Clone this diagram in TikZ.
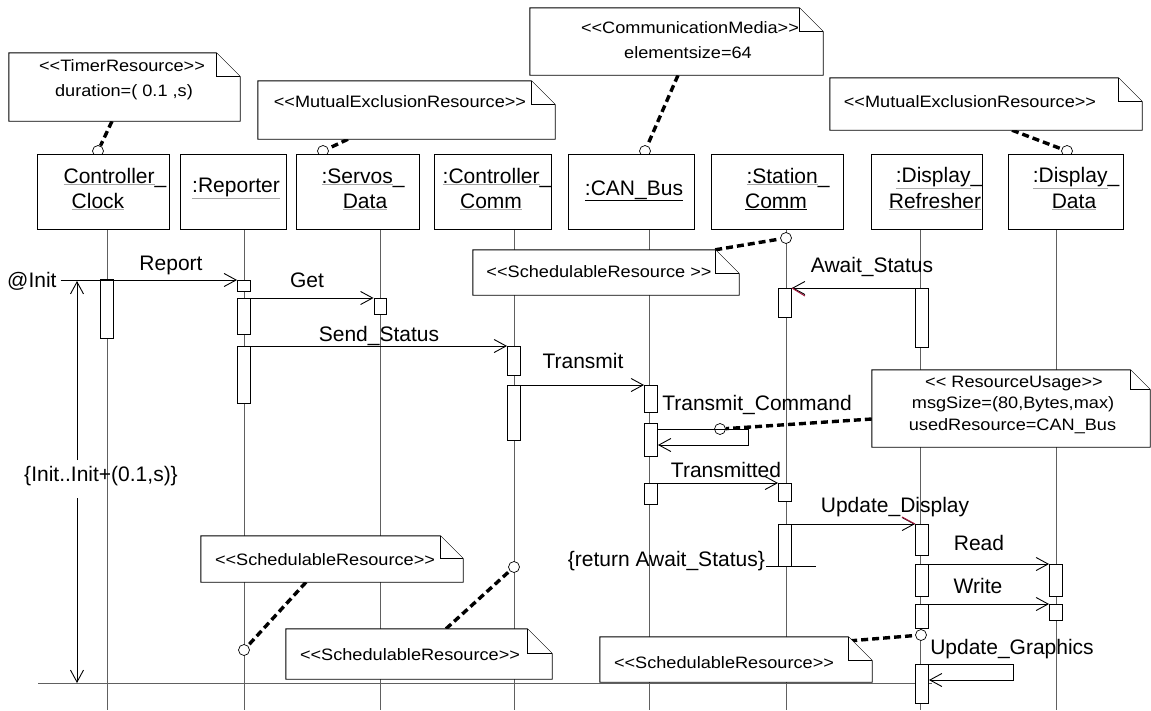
\documentclass[tikz,border=0pt]{standalone}
\usepackage{fontspec}
\setmainfont{Liberation Sans}[Ligatures=TeXOff]
\newfontfamily\notefont{Liberation Sans}[FakeStretch=1.1,Ligatures=TeXOff]
\usetikzlibrary{arrows.meta}
\pgfdeclarelayer{back}
\pgfdeclarelayer{notes}
\pgfsetlayers{back,notes,main}
\definecolor{lifegray}{HTML}{606060}
\definecolor{ulgray}{HTML}{A8A8A8}
\definecolor{tickred}{HTML}{A0183C}
\newcommand\ulg[1]{\textcolor{ulgray}{\underline{\textcolor{black}{#1}}}}
\newcommand\noteoutline[2]{%
  \filldraw[noteline] (#1.north west) -- ([xshift=-#2pt]#1.north east) -- ([yshift=-#2pt]#1.north east) -- (#1.south east) -- (#1.south west) -- cycle;
  \draw[noteline] ([xshift=-#2pt]#1.north east) |- ([yshift=-#2pt]#1.north east);}
\tikzset{
  lbl/.style={font=\fontsize{21}{25}\selectfont, inner sep=0pt, anchor=base},
  ntxt/.style={font=\notefont\fontsize{16.5}{22}\selectfont, inner sep=0pt, anchor=base},
  obj/.style={draw, fill=white, line width=0.9pt, minimum height=75pt, inner sep=0pt},
  act/.style={draw, fill=white, line width=0.9pt, minimum width=13pt, inner sep=0pt, anchor=north},
  life/.style={draw=lifegray, line width=0.9pt},
  msg/.style={line width=0.8pt, -{Straight Barb[length=12pt,width=13pt,line width=0.9pt]}},
  plainline/.style={line width=0.8pt},
  dconn/.style={line width=3.4pt, dash pattern=on 7pt off 4pt},
  circ/.style={circle, draw, fill=white, line width=0.7pt, minimum size=11pt, inner sep=0pt},
  notebox/.style={rectangle, inner sep=0pt},
  noteline/.style={draw, fill=white, line width=0.9pt},
}
\begin{document}
\begin{tikzpicture}[x=1pt,y=-1pt]
\useasboundingbox (0,0) rectangle (1151,710);
\begin{pgfonlayer}{back}
\fill[white] (0,0) rectangle (1151,710);
\end{pgfonlayer}

% ---------- note placeholders (outline drawn on notes layer) ----------
\node[notebox, minimum width=231pt, minimum height=68pt] (tn)  at (124.5,87) {};
\node[notebox, minimum width=297pt, minimum height=58pt] (mx1) at (406.5,110) {};
\node[notebox, minimum width=293pt, minimum height=67pt] (cm)  at (676.5,41.5) {};
\node[notebox, minimum width=312pt, minimum height=52pt] (mx2) at (986,104) {};
\node[notebox, minimum width=266pt, minimum height=45pt] (sr1) at (606,272.5) {};
\node[notebox, minimum width=278pt, minimum height=77pt] (ru)  at (1011,408.5) {};
\node[notebox, minimum width=262pt, minimum height=46pt] (sr2) at (332,559) {};
\node[notebox, minimum width=266pt, minimum height=50pt] (sr3) at (419,654) {};
\node[notebox, minimum width=272pt, minimum height=45pt] (sr4) at (736,659.5) {};

% ---------- circles (note anchors) ----------
\node[circ] (ctn)  at (98,151) {};
\node[circ] (cmx1) at (323,151) {};
\node[circ] (ccm)  at (645,151) {};
\node[circ] (cmx2) at (1067,151) {};
\node[circ] (csr1) at (786,238) {};
\node[circ] (cru)  at (720,429) {};
\node[circ] (csr4) at (921,635) {};
\node[circ] (csr2) at (244,650) {};
\node[circ] (csr3) at (514,567) {};

% ---------- object boxes ----------
\node[obj, minimum width=132pt] (cl) at (103,191.5) {};
\node[obj, minimum width=106pt] (rp) at (233,191.5) {};
\node[obj, minimum width=123pt] (sv) at (357.5,191.5) {};
\node[obj, minimum width=117pt] (cc) at (492.5,191.5) {};
\node[obj, minimum width=126pt] (cb) at (631,191.5) {};
\node[obj, minimum width=132pt] (sc) at (777,191.5) {};
\node[obj, minimum width=111pt] (dr) at (926.5,191.5) {};
\node[obj, minimum width=115pt] (dd) at (1065.5,191.5) {};

\node[lbl] at (115,183) {\ulg{Controller}\_};
\node[lbl] at (98,208) {\ulg{Clock}};
\node[lbl] at (236,192) {\ulg{:Reporter}};
\node[lbl] at (363,183) {\ulg{:Servos}\_};
\node[lbl] at (365,208) {\ulg{Data}};
\node[lbl] at (497,183) {\ulg{:Controller}\_};
\node[lbl] at (491,208) {\ulg{Comm}};
\node[lbl] at (634,195) {\underline{:CAN\_Bus}};
\node[lbl] at (788,183) {\ulg{:Station}\_};
\node[lbl] at (776,208) {\underline{Comm}};
\node[lbl] at (939,182) {\ulg{:Display}\_};
\node[lbl] at (935,208) {\ulg{Refresher}};
\node[lbl] at (1076,182) {\ulg{:Display}\_};
\node[lbl] at (1074,208) {\ulg{Data}};

% ---------- activation boxes ----------
\node[act, minimum height=59pt] (clk1) at (107,279) {};
\node[act, minimum height=11pt] (rep0) at (244,280) {};
\node[act, minimum height=36pt] (rep1) at (244,298) {};
\node[act, minimum height=57pt] (rep2) at (244,346) {};
\node[act, minimum height=16pt, minimum width=12pt] (srv1) at (380,298) {};
\node[act, minimum height=29pt] (cc1) at (514,346) {};
\node[act, minimum height=55pt] (cc2) at (514,385) {};
\node[act, minimum height=27pt] (bus1) at (651,385) {};
\node[act, minimum height=33pt] (bus2) at (651,423) {};
\node[act, minimum height=21pt] (bus3) at (651,483) {};
\node[act, minimum height=29pt] (st1) at (785,288) {};
\node[act, minimum height=18pt] (st2) at (785,483) {};
\node[act, minimum height=42pt] (st3) at (785,524) {};
\node[act, minimum height=59pt] (dr1) at (922,288) {};
\node[act, minimum height=31pt] (dr2) at (922,524) {};
\node[act, minimum height=32pt] (dr3) at (922,564) {};
\node[act, minimum height=24pt] (dr4) at (922,604) {};
\node[act, minimum height=39pt] (dr5) at (922,664) {};
\node[act, minimum height=32pt] (dd1) at (1056,564) {};
\node[act, minimum height=16pt] (dd2) at (1056,604) {};

% ---------- helper coordinates ----------
\coordinate (bot) at (0,710);
\coordinate (bl1) at (38,683);
\coordinate (bl2) at (932,683);
\coordinate (t1) at (77,281);
\coordinate (tg1) at (77,460);
\coordinate (tg2) at (77,498);
\coordinate (t2) at (77,683);
\coordinate (tc1) at (748,429);
\coordinate (tc2) at (748,445);
\coordinate (ug1) at (1013,664);
\coordinate (ug2) at (1013,680);
\coordinate (r1) at (766,566);
\coordinate (r2) at (816,566);

% ---------- back layer: lifelines, frame lines, dashed links ----------
\begin{pgfonlayer}{back}
\draw[life] (cl.south -| 107,0) -- (107,710);
\draw[life] (rp.south -| rep0) -- (rep0 |- bot);
\draw[life] (sv.south -| srv1) -- (srv1 |- bot);
\draw[life] (cc.south -| cc1) -- (cc1 |- bot);
\draw[life] (cb.south -| 649,0) -- (649,710);
\draw[life] (sc.south -| 786,0) -- (786,710);
\draw[life] (dr.south -| 920,0) -- (920,710);
\draw[life] (dd.south -| dd1) -- (dd1 |- bot);
\draw[life] (bl1) -- (bl2);
\draw[msg] (tg1) -- (t1);
\draw[msg] (tg2) -- (t2);
\draw[dconn] ([xshift=-12.5pt]tn.south) -- (ctn);
\draw[dconn] ([xshift=-58.5pt]mx1.south) -- (cmx1);
\draw[dconn] ([xshift=1.5pt]cm.south) -- (ccm);
\draw[dconn] ([xshift=26pt]mx2.south) -- (cmx2);
\draw[dconn] ([xshift=-24pt]sr1.north east) -- (csr1);
\draw[dconn] ([yshift=-10.5pt]ru.west) -- (cru);
\draw[dconn] ([xshift=-22pt,yshift=-4pt]sr4.north east) -- (csr4);
\draw[dconn] ([xshift=-26pt]sr2.south) -- (csr2);
\draw[dconn] ([xshift=27pt]sr3.north) -- (csr3);
\end{pgfonlayer}

% ---------- notes layer ----------
\begin{pgfonlayer}{notes}
\noteoutline{tn}{24}
\noteoutline{mx1}{24}
\noteoutline{cm}{24}
\noteoutline{mx2}{24}
\noteoutline{sr1}{24}
\noteoutline{ru}{20}
\noteoutline{sr2}{23}
\noteoutline{sr3}{25}
\noteoutline{sr4}{24}
\end{pgfonlayer}

% ---------- note texts ----------
\node[ntxt] at (122,71) {<<TimerResource>>};
\node[ntxt] at (124,96) {duration=( 0.1 ,s)};
\node[ntxt] at (400,107) {<<MutualExclusionResource>>};
\node[ntxt] at (690,33) {<<CommunicationMedia>>};
\node[ntxt] at (688,58) {elementsize=64};
\node[ntxt] at (970,107) {<<MutualExclusionResource>>};
\node[ntxt] at (599,277) {<<SchedulableResource >>};
\node[ntxt] at (1014,387) {<< ResourceUsage>>};
\node[ntxt] at (1013,408) {msgSize=(80,Bytes,max)};
\node[ntxt] at (1012.5,430) {usedResource=CAN\_Bus};
\node[ntxt] at (325,565) {<<SchedulableResource>>};
\node[ntxt] at (410,660) {<<SchedulableResource>>};
\node[ntxt] at (724,668) {<<SchedulableResource>>};

% ---------- messages ----------
\node[lbl, anchor=base west] (init) at (7,287) {@Init};
\draw[msg] ([xshift=4pt]init.east |- rep0.north) -- (rep0.north west);
\node[lbl] at (171,270) {Report};
\draw[msg] (rep1.north east) -- (srv1.north west);
\node[lbl] at (307,287) {Get};
\draw[msg] (rep2.north east) -- (cc1.north west);
\node[lbl] at (379,341) {Send\_Status};
\draw[msg] (cc2.north east) -- (bus1.north west);
\node[lbl] at (583,368) {Transmit};
\draw[msg] (bus2.east |- tc1) -- (tc1) -- (tc2) -- (bus2.east |- tc2);
\node[lbl] at (757,410) {Transmit\_Command};
\draw[msg] (bus3.north east) -- (st2.north west);
\node[lbl] at (726,477) {Transmitted};
\draw[msg] (dr1.north west) -- (st1.north east);
\draw[tickred, line width=1pt] (st1.north east) -- ++(13,8);
\node[lbl] at (872,272) {Await\_Status};
\draw[msg] (st3.north east) -- (dr2.north west);
\draw[tickred, line width=1pt] (dr2.north west) -- ++(-13,-7);
\node[lbl] at (895,512) {Update\_Display};
\draw[plainline] (r1) -- (r2);
\node[lbl, anchor=base east] at (765,566) {\{return Await\_Status\}};
\draw[msg] (dr3.north east) -- (dd1.north west);
\node[lbl] at (979,550) {Read};
\draw[msg] (dr4.north east) -- (dd2.north west);
\node[lbl] at (978,593) {Write};
\draw[msg] (dr5.north east) -- (ug1) -- (ug2) -- (dr5.east |- ug2);
\node[lbl] at (1012,654) {Update\_Graphics};
\node[lbl] at (101,481) {\{Init..Init+(0.1,s)\}};
\end{tikzpicture}
\end{document}
